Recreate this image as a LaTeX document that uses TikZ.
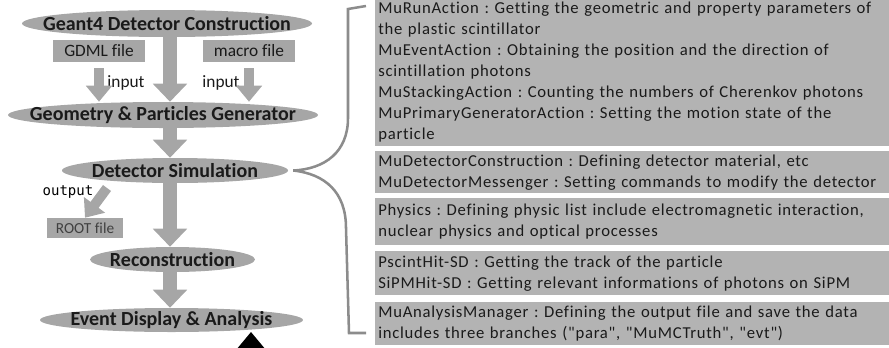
\documentclass[tikz,border=0pt]{standalone}
\usepackage{fontspec}
\setmainfont{Carlito}[Ligatures=NoCommon]
\newfontfamily\descfont{Carlito}[Ligatures=NoCommon,LetterSpace=4.5]
\newfontfamily\outfont{DejaVu Sans Mono}
\usetikzlibrary{shapes.geometric,arrows.meta}

\definecolor{stagegray}{HTML}{A6A6A6}
\definecolor{descgray}{HTML}{B3B3B3}
\definecolor{bracegray}{HTML}{8C8C8C}
\definecolor{inkgray}{HTML}{1A1A1A}

\tikzset{
  stage/.style={ellipse, fill=stagegray, inner sep=0pt},
  stagetext/.style={inner sep=0pt, text=inkgray, font=\fontsize{15}{18}\selectfont\bfseries},
  filebox/.style={rectangle, fill=stagegray, inner sep=0pt, text=inkgray, font=\fontsize{13}{15}\selectfont},
  flowlabel/.style={inner sep=0pt, text=inkgray, font=\fontsize{13}{15}\selectfont},
  descbox/.style={rectangle, fill=descgray, anchor=north west, align=left, text width=381pt,
    inner xsep=2.25pt, inner ysep=0pt, text=inkgray, font=\fontsize{12.5}{15.75}\descfont},
  bigflow/.style={draw=stagegray, line width=10.5pt, -{Triangle[length=13.5pt,width=25pt]}},
  smallflow/.style={draw=stagegray, line width=8pt, -{Triangle[length=12pt,width=19pt]}},
  brace/.style={draw=bracegray, line width=1.9pt}
}

\begin{document}
\frenchspacing
\begin{tikzpicture}[x=0.75pt,y=-0.75pt]
  \useasboundingbox (0,0) rectangle (889,347);
  \clip (0,0) rectangle (889,347);

  % simulation chain
  \node[stage, minimum width=217.5pt, minimum height=20.25pt] (geant) at (167,23.5) {};
  \node[stagetext] at (geant) {Geant4 Detector Construction};
  \node[filebox, minimum width=69pt, minimum height=16.5pt] (gdml) at (99,51) {GDML file};
  \node[filebox, minimum width=69pt, minimum height=16.5pt] (macro) at (249,51) {macro file};
  \node[stage, minimum width=232.5pt, minimum height=19.5pt] (geo) at (163,115) {};
  \node[stagetext] at (geo) {Geometry \& Particles Generator};
  \node[stage, minimum width=169.5pt, minimum height=18.75pt] (sim) at (175,170.5) {};
  \node[stagetext] at (sim) {Detector Simulation};
  \node[filebox, minimum width=57pt, minimum height=15pt, text=black!75, font=\fontsize{11.5}{13}\selectfont] (root) at (85,228) {ROOT file};
  \node[stage, minimum width=123.75pt, minimum height=18.75pt] (reco) at (172.5,259.5) {};
  \node[stagetext] at (reco) {Reconstruction};
  \node[stage, minimum width=197.25pt, minimum height=18pt] (event) at (171.5,320) {};
  \node[stagetext] at (event) {Event Display \& Analysis};

  \node[flowlabel] (inleft) at (126,83) {input};
  \node[flowlabel] (inright) at (221,83) {input};
  \node[inner sep=0pt, font=\fontsize{10.5}{12}\outfont] (outtxt) at (68,192) {output};

  % arrows
  \coordinate (axis) at (170,0);
  \coordinate (outtail) at (107,188);
  \draw[bigflow] (geant.south -| axis) -- (geo.north -| axis);
  \draw[smallflow, shorten <=4.5pt] (gdml.south) -- (gdml.south |- geo.north);
  \draw[smallflow, shorten <=4.5pt] (macro.south) -- (macro.south |- geo.north);
  \draw[bigflow] (geo.south -| axis) -- (sim.north -| axis);
  \draw[bigflow] (sim.south -| axis) -- (reco.north -| axis);
  \draw[bigflow] (reco.south -| axis) -- (event.north -| axis);
  \draw[smallflow, line width=7.5pt] (outtail) -- (root.north);

  % class descriptions
  \node[descbox, minimum height=111.75pt] (actions) at (375,-3) {MuRunAction : Getting the geometric and property parameters of\\
    the plastic scintillator\\
    MuEventAction : Obtaining the position and the direction of\\
    scintillation photons\\
    MuStackingAction : Counting the numbers of Cherenkov photons\\
    MuPrimaryGeneratorAction : Setting the motion state of the\\
    particle};
  \node[descbox, minimum height=31.5pt] (construct) at (375,151) {MuDetectorConstruction : Defining detector material, etc\\
    MuDetectorMessenger : Setting commands to modify the detector};
  \node[descbox, minimum height=35.25pt] (physics) at (375,198) {Physics : Defining physic list include electromagnetic interaction,\\
    nuclear physics and optical processes};
  \node[descbox, minimum height=33pt] (hits) at (375,251) {PscintHit-SD : Getting the track of the particle\\
    SiPMHit-SD : Getting relevant informations of photons on SiPM};
  \node[descbox, minimum height=32.25pt] (analysis) at (375,302) {MuAnalysisManager : Defining the output file and save the data\\
    includes three branches ("para", "MuMCTruth", "evt")};

  % bracket
  \draw[brace] (366,6) -- (348,9) -- (348,118)
    .. controls (348,152) and (325,169) .. ([xshift=3.75pt]sim.east)
    .. controls (325,174) and (346,192) .. (346,228) -- (349,333) -- (366,333);

  \fill[black] (251,332) -- (266,350) -- (236,350) -- cycle;
\end{tikzpicture}
\end{document}
